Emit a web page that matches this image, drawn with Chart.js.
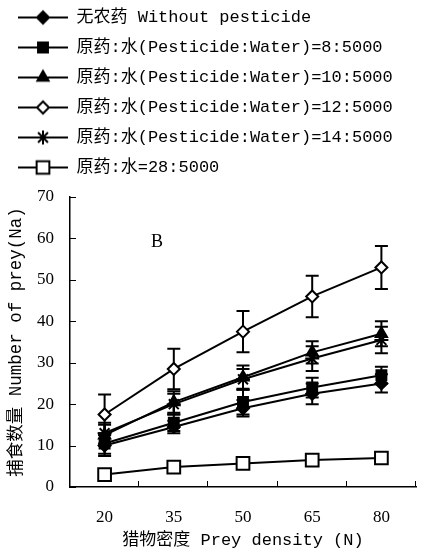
<!DOCTYPE html>
<html>
<head>
<meta charset="utf-8">
<script src="https://cdn.jsdelivr.net/npm/chart.js@4/dist/chart.umd.min.js"></script>
<style>
  html, body { margin: 0; padding: 0; background: #fff; }
  #wrap { width: 427px; height: 555px; }
</style>
</head>
<body>
<div id="wrap"><canvas id="preyChart"></canvas></div>
<script>
// prey density categories
const densities = ['20', '35', '50', '65', '80'];
const yTicks = [0, 10, 20, 30, 40, 50, 60, 70];

// number of prey eaten (Na) per treatment, and error bars
const noPesticide = [10, 14.5, 19, 22.5, 25];
const noPesticideErr = [2.5, 1.5, 2, 2.5, 2.2];
const ratio8 = [10.5, 15.5, 20.5, 24, 27];
const ratio8Err = [2.5, 2, 3, 2.4, 2];
const ratio10 = [12.5, 20.5, 26.5, 32.5, 37];
const ratio10Err = [2.5, 2.6, 2.8, 2.7, 3];
const ratio12 = [17.5, 28.5, 37.5, 46, 53];
const ratio12Err = [4.8, 4.9, 5, 5, 5.2];
const ratio14 = [13, 20, 26, 31, 35.5];
const ratio14Err = [2.5, 2.5, 2.5, 3, 3.2];
const ratio28 = [3, 4.8, 5.7, 6.5, 7];
const ratio28Err = [0.4, 0.4, 0.4, 0.4, 0.4];

const seriesNames = [
  '无农药 Without pesticide',
  '原药:水(Pesticide:Water)=8:5000',
  '原药:水(Pesticide:Water)=10:5000',
  '原药:水(Pesticide:Water)=12:5000',
  '原药:水(Pesticide:Water)=14:5000',
  '原药:水=28:5000'
];

const monoFont = "'Liberation Mono', 'Noto Sans CJK SC', monospace";
const serifFont = "'Liberation Serif', 'DejaVu Serif', serif";

const series = [
  { values: noPesticide, err: noPesticideErr, style: 'rectRot', fill: '#000', r: 6 },
  { values: ratio8, err: ratio8Err, style: 'rect', fill: '#000', r: 7 },
  { values: ratio10, err: ratio10Err, style: 'triangle', fill: '#000', r: 6.5 },
  { values: ratio12, err: ratio12Err, style: 'rectRot', fill: '#fff', r: 6 },
  { values: ratio14, err: ratio14Err, style: 'star', fill: '#000', r: 7 },
  { values: ratio28, err: ratio28Err, style: 'rect', fill: '#fff', r: 9 }
];

// small canvas with line + marker, used as legend symbol
function legendSymbol(s) {
  const c = document.createElement('canvas');
  c.width = 50;
  c.height = 20;
  const ctx = c.getContext('2d');
  ctx.strokeStyle = '#000';
  ctx.lineWidth = 2;
  ctx.beginPath();
  ctx.moveTo(0, 10);
  ctx.lineTo(50, 10);
  ctx.stroke();
  ctx.fillStyle = s.fill;
  Chart.helpers.drawPoint(ctx, { pointStyle: s.style, radius: s.r, rotation: 0, borderWidth: 2 }, 25, 10);
  return c;
}

// extra room under the legend
const legendGap = {
  id: 'legendGap',
  beforeInit(chart) {
    const fit = chart.legend.fit;
    chart.legend.fit = function () {
      fit.bind(chart.legend)();
      this.height += 11;
    };
  }
};

const errorBars = {
  id: 'errorBars',
  beforeDatasetsDraw(chart) {
    const { ctx, scales: { x, y } } = chart;
    ctx.save();
    ctx.strokeStyle = '#000';
    ctx.lineWidth = 2;
    series.forEach(s => {
      s.values.forEach((v, i) => {
        const px = x.getPixelForValue(i);
        const top = y.getPixelForValue(v + s.err[i]);
        const bot = y.getPixelForValue(v - s.err[i]);
        ctx.beginPath();
        ctx.moveTo(px, top); ctx.lineTo(px, bot);
        ctx.moveTo(px - 6.5, top); ctx.lineTo(px + 6.5, top);
        ctx.moveTo(px - 6.5, bot); ctx.lineTo(px + 6.5, bot);
        ctx.stroke();
      });
    });
    ctx.restore();
  }
};

// inward tick marks and the panel letter
const axisMarks = {
  id: 'axisMarks',
  afterDraw(chart) {
    const { ctx, chartArea, scales: { x, y } } = chart;
    ctx.save();
    ctx.strokeStyle = '#000';
    ctx.lineWidth = 1;
    ctx.beginPath();
    y.ticks.forEach(t => {
      const py = Math.round(y.getPixelForValue(t.value)) + 0.5;
      ctx.moveTo(chartArea.left, py);
      ctx.lineTo(chartArea.left + 6, py);
    });
    for (let i = 1; i <= densities.length; i++) {
      const px = Math.round(x.getPixelForValue(i - 0.5)) - 0.5;
      ctx.moveTo(px, chartArea.bottom);
      ctx.lineTo(px, chartArea.bottom - 6);
    }
    ctx.stroke();
    ctx.fillStyle = '#000';
    ctx.font = "18px " + serifFont;
    ctx.textAlign = 'center';
    ctx.textBaseline = 'middle';
    ctx.fillText('B', chartArea.left + 87, chartArea.top + 45);
    ctx.restore();
  }
};

const ctx = document.getElementById('preyChart').getContext('2d');
const preyChart = new Chart(ctx, {
  type: 'line',
  data: {
    labels: densities,
    datasets: series.map((s, i) => ({
      label: seriesNames[i],
      data: s.values,
      borderColor: '#000',
      borderWidth: 2,
      pointStyle: s.style,
      pointRadius: s.r,
      pointBackgroundColor: s.fill,
      pointBorderColor: '#000',
      pointBorderWidth: 2,
      tension: 0
    }))
  },
  options: {
    responsive: true,
    maintainAspectRatio: false,
    animation: false,
    events: [],
    layout: { padding: { top: -4, left: 5, right: 1, bottom: 3 } },
    plugins: {
      tooltip: { enabled: false },
      legend: {
        position: 'top',
        align: 'start',
        labels: {
          color: '#000',
          font: { family: monoFont, size: 17 },
          padding: 13,
          usePointStyle: true,
          pointStyleWidth: 50,
          generateLabels(chart) {
            const items = Chart.defaults.plugins.legend.labels.generateLabels(chart);
            items.forEach((it, i) => { it.pointStyle = legendSymbol(series[i]); });
            return items;
          }
        }
      }
    },
    scales: {
      x: {
        type: 'category',
        offset: true,
        grid: { display: true, drawOnChartArea: false, drawTicks: false },
        border: { color: '#000', width: 1.5 },
        ticks: { color: '#000', font: { family: serifFont, size: 17 }, padding: 20 },
        title: {
          display: true,
          text: '猎物密度 Prey density (N)',
          color: '#000',
          font: { family: monoFont, size: 17 },
          padding: { top: -17.6, bottom: 1.8 }
        }
      },
      y: {
        min: 0,
        max: 70,
        afterBuildTicks(axis) { axis.ticks = yTicks.map(v => ({ value: v })); },
        grid: { display: true, drawOnChartArea: false, drawTicks: false },
        border: { color: '#000', width: 1.5 },
        ticks: { color: '#000', font: { family: serifFont, size: 17 }, padding: 16 },
        title: {
          display: true,
          text: '捕食数量 Number of prey(Na)',
          color: '#000',
          font: { family: monoFont, size: 17.5 },
          padding: { top: 1, bottom: -6 }
        }
      }
    }
  },
  plugins: [legendGap, errorBars, axisMarks]
});
</script>
</body>
</html>
